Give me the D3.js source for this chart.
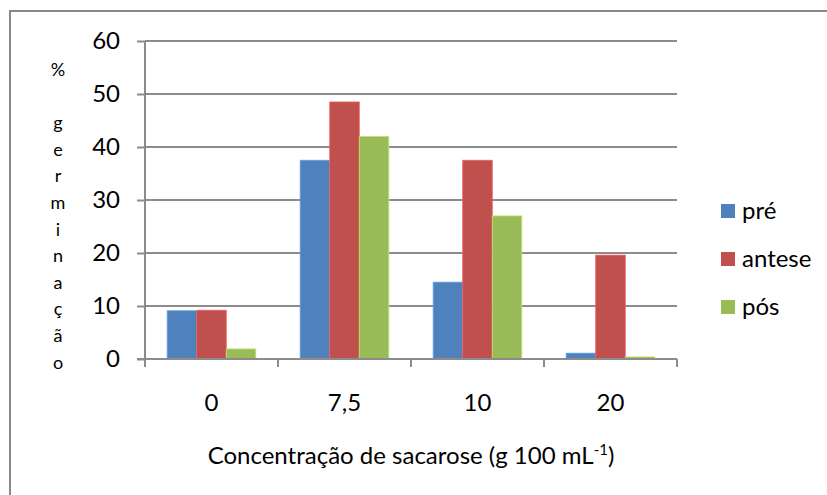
<!DOCTYPE html>
<html>
<head>
<meta charset="utf-8">
<script src="https://cdn.jsdelivr.net/npm/d3@7"></script>
<style>
  html, body { margin: 0; padding: 0; background: #fff; }
  svg { display: block; font-family: Lato, "Liberation Sans", Arial, sans-serif; }
</style>
</head>
<body>
<svg id="chart" width="827" height="495"></svg>
<script>
// Sucrose concentrations (g 100 mL-1)
const categories = ["0", "7,5", "10", "20"];
const seriesNames = ["pré", "antese", "pós"];
const seriesColors = ["#4F81BD", "#C0504D", "#9BBB59"];
// % germination per series, in category order
const preValues = [9.1, 37.5, 14.5, 1.1];
const anteseValues = [9.2, 48.5, 37.5, 19.6];
const posValues = [1.9, 42.0, 27.0, 0.4];
const yTicks = [0, 10, 20, 30, 40, 50, 60];
const yLabelLetters = ["%", "", "g", "e", "r", "m", "i", "n", "a", "ç", "ã", "o"];

const seriesValues = [preValues, anteseValues, posValues];

const svg = d3.select("#chart");
const plot = { left: 145, right: 677, top: 41, bottom: 359 };
const FONT = 24;
const FAMILY = "Lato, 'Liberation Sans', Arial, sans-serif";

// Chart frame
svg.append("rect")
  .attr("x", 10).attr("y", 11)
  .attr("width", 840).attr("height", 520)
  .attr("fill", "none").attr("stroke", "#888").attr("stroke-width", 2);

const x0 = d3.scaleBand().domain(categories).range([plot.left, plot.right]).paddingInner(0).paddingOuter(0);
const barW = x0.bandwidth() / (seriesNames.length + 1.5);
const x1 = d3.scaleBand().domain(seriesNames)
  .range([0, barW * seriesNames.length]);
const y = d3.scaleLinear().domain([0, 60]).range([plot.bottom, plot.top]);

// Gridlines
svg.append("g").selectAll("line").data(yTicks.filter(t => t > 0)).join("line")
  .attr("x1", plot.left).attr("x2", plot.right)
  .attr("y1", d => y(d)).attr("y2", d => y(d))
  .attr("stroke", "#8c8c8c").attr("stroke-width", 2);

// Bars
const groups = svg.append("g").selectAll("g").data(categories).join("g")
  .attr("transform", c => `translate(${x0(c) + (x0.bandwidth() - barW * seriesNames.length) / 2},0)`);
groups.selectAll("rect")
  .data((c, ci) => seriesNames.map((s, si) => ({ s, si, v: seriesValues[si][ci] })))
  .join("rect")
  .attr("x", d => x1(d.s))
  .attr("width", x1.bandwidth())
  .attr("y", d => y(d.v))
  .attr("height", d => y(0) - y(d.v))
  .attr("fill", d => seriesColors[d.si])
  .attr("stroke", d => d3.color(seriesColors[d.si]).brighter(0.6))
  .attr("stroke-width", 0.8);

// Y axis
const yAxis = d3.axisLeft(y).tickValues(yTicks).tickSize(8).tickPadding(17).tickFormat(d3.format("d"));
const gy = svg.append("g").attr("transform", `translate(${plot.left},0)`).call(yAxis);
gy.select(".domain").attr("stroke", "#8c8c8c").attr("stroke-width", 2).attr("d", `M0,${plot.top}V${plot.bottom}`);
gy.selectAll(".tick line").attr("stroke", "#8c8c8c").attr("stroke-width", 2);
gy.selectAll(".tick text").attr("font-size", FONT).attr("fill", "#000")
  .attr("font-family", FAMILY);

// X axis baseline and category dividers
const gx = svg.append("g");
gx.append("line")
  .attr("x1", plot.left - 8).attr("x2", plot.right)
  .attr("y1", plot.bottom).attr("y2", plot.bottom)
  .attr("stroke", "#8c8c8c").attr("stroke-width", 2);
const dividers = categories.map(c => x0(c)).concat([plot.right]);
gx.selectAll("line.div").data(dividers).join("line").attr("class", "div")
  .attr("x1", d => d).attr("x2", d => d)
  .attr("y1", plot.bottom).attr("y2", plot.bottom + 8)
  .attr("stroke", "#8c8c8c").attr("stroke-width", 2);
gx.selectAll("text").data(categories).join("text")
  .attr("x", c => x0(c) + x0.bandwidth() / 2)
  .attr("y", 411)
  .attr("text-anchor", "middle")
  .attr("font-size", FONT)
  .text(c => c);

// Y axis title, one letter per line
svg.append("g").selectAll("text").data(yLabelLetters).join("text")
  .attr("x", 58)
  .attr("y", (d, i) => 76 + i * 26.6)
  .attr("text-anchor", "middle")
  .attr("font-size", 18)
  .text(d => d);

// X axis title
const xt = svg.append("text")
  .attr("x", 411).attr("y", 464)
  .attr("text-anchor", "middle")
  .attr("font-size", FONT);
xt.append("tspan").text("Concentração de sacarose (g 100 mL");
xt.append("tspan").attr("dy", -9).attr("font-size", 15).text("-1");
xt.append("tspan").attr("dy", 9).text(")");

// Legend
const legend = svg.append("g").selectAll("g").data(seriesNames).join("g")
  .attr("transform", (d, i) => `translate(721,${204 + i * 48})`);
legend.append("rect").attr("width", 14).attr("height", 14)
  .attr("fill", (d, i) => seriesColors[i]);
legend.append("text").attr("x", 21).attr("y", 15).attr("font-size", FONT).text(d => d);
</script>
</body>
</html>
